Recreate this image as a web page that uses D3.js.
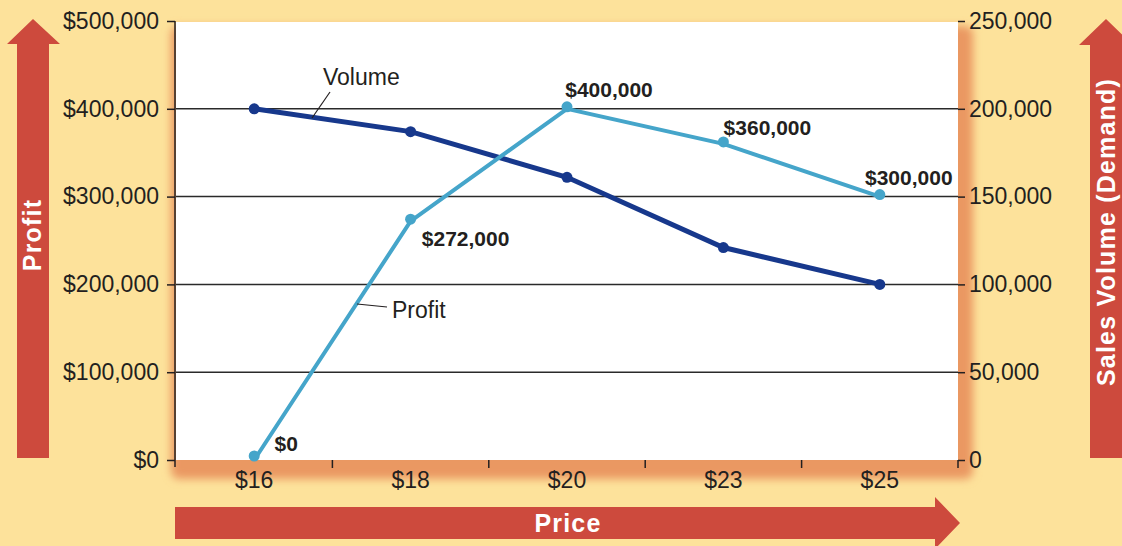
<!DOCTYPE html>
<html lang="en">
<head>
<meta charset="UTF-8">
<title>Price, Profit and Volume</title>
<script src="https://d3js.org/d3.v7.min.js"></script>
<style>
    body { margin: 0; background: #fde29b; }
    svg { display: block; font-family: "Liberation Sans", Arial, sans-serif; }
    .tick-label { font-size: 23px; fill: #231f20; }
    .data-label { font-size: 21px; font-weight: bold; fill: #231f20; }
    .arrow-label { font-size: 25px; font-weight: bold; fill: #fff; letter-spacing: 1.2px; }
</style>
</head>
<body>
<svg width="1122" height="546"></svg>
<script>
// data
const prices = ["$16", "$18", "$20", "$23", "$25"];
const profit = [0, 272000, 400000, 360000, 300000];
const volume = [200000, 187000, 161000, 121000, 100000];
const profitTicks = [0, 100000, 200000, 300000, 400000, 500000];
const volumeTicks = [0, 50000, 100000, 150000, 200000, 250000];
const profitLabels = ["$0", "$272,000", "$400,000", "$360,000", "$300,000"];

const plot = {left: 176, right: 958, top: 21, bottom: 460};
const svg = d3.select("svg");

const x = d3.scaleBand().domain(prices).range([plot.left, plot.right]);
const yP = d3.scaleLinear().domain([0, 500000]).range([plot.bottom, plot.top]);
const yV = d3.scaleLinear().domain([0, 250000]).range([plot.bottom, plot.top]);
const cx = d => x(d) + x.bandwidth() / 2;

svg.append("rect").attr("width", 1122).attr("height", 546).attr("fill", "#fde29b");

// shadow behind plot
const defs = svg.append("defs");
defs.append("filter").attr("id", "blur")
    .attr("x", "-5%").attr("y", "-5%").attr("width", "110%").attr("height", "110%")
  .append("feGaussianBlur").attr("stdDeviation", 4);

svg.append("rect")
    .attr("x", plot.left - 5).attr("y", plot.top + 5)
    .attr("width", plot.right - plot.left + 20).attr("height", plot.bottom - plot.top + 14)
    .attr("rx", 8)
    .attr("fill", "#ea9862")
    .attr("filter", "url(#blur)");

svg.append("rect")
    .attr("x", plot.left).attr("y", plot.top + 1)
    .attr("width", plot.right - plot.left).attr("height", plot.bottom - plot.top - 1)
    .attr("fill", "#fff");

// arrows
const red = "#cd4a3d";
svg.append("path").attr("fill", red)
    .attr("d", "M17,458 L17,44 L7,44 L33,19 L60,44 L49,44 L49,458 Z");
svg.append("path").attr("fill", red)
    .attr("d", "M1090,458 L1090,45 L1079,45 L1106,19 L1133,45 L1122,45 L1122,458 Z");
svg.append("path").attr("fill", red)
    .attr("d", "M175,507 L935,507 L935,497 L960,523 L935,549 L935,539 L175,539 Z");

svg.append("text").attr("class", "arrow-label")
    .attr("transform", "translate(41,235) rotate(-90)")
    .attr("text-anchor", "middle").text("Profit");
svg.append("text").attr("class", "arrow-label")
    .attr("transform", "translate(1115,232) rotate(-90)")
    .attr("text-anchor", "middle").text("Sales Volume (Demand)");
svg.append("text").attr("class", "arrow-label")
    .attr("x", 568).attr("y", 532)
    .attr("text-anchor", "middle").text("Price");

// gridlines
svg.append("g").selectAll("line")
    .data(profitTicks.slice(1, -1))
    .join("line")
    .attr("x1", plot.left).attr("x2", plot.right)
    .attr("y1", d => yP(d)).attr("y2", d => yP(d))
    .attr("stroke", "#2a2a2a").attr("stroke-width", 1.5);

// left axis
const leftAxis = svg.append("g")
    .attr("transform", `translate(${plot.left - 1},0)`)
    .call(d3.axisLeft(yP).tickValues(profitTicks)
        .tickFormat(d => "$" + d3.format(",")(d)).tickSize(8).tickSizeOuter(0));
leftAxis.select(".domain").remove();
leftAxis.append("line").attr("y1", plot.top).attr("y2", plot.bottom + 7)
    .attr("stroke", "#231f20").attr("stroke-width", 1.5);
leftAxis.selectAll(".tick line").attr("stroke", "#231f20").attr("stroke-width", 1.5);
leftAxis.selectAll(".tick text").attr("class", "tick-label")
    .attr("font-size", null).attr("font-family", null).attr("fill", null).attr("x", -16);

// right axis
const rightAxis = svg.append("g")
    .attr("transform", `translate(${plot.right},0)`)
    .call(d3.axisRight(yV).tickValues(volumeTicks)
        .tickFormat(d3.format(",")).tickSize(7).tickSizeOuter(0));
rightAxis.select(".domain").remove();
rightAxis.selectAll(".tick line").attr("stroke", "#231f20").attr("stroke-width", 1.5);
rightAxis.selectAll(".tick text").attr("class", "tick-label")
    .attr("font-size", null).attr("font-family", null).attr("fill", null).attr("x", 11);

// bottom axis: ticks at band boundaries, labels at centers
const bounds = prices.map(p => x(p)).concat([plot.right]);
svg.append("g").selectAll("line")
    .data(bounds.slice(1))
    .join("line")
    .attr("x1", d => d).attr("x2", d => d)
    .attr("y1", plot.bottom).attr("y2", plot.bottom + 8)
    .attr("stroke", "#231f20").attr("stroke-width", 1.5);
svg.append("g").selectAll("text")
    .data(prices)
    .join("text")
    .attr("class", "tick-label")
    .attr("x", d => cx(d)).attr("y", plot.bottom + 28)
    .attr("text-anchor", "middle")
    .text(d => d);

// lines
const volLine = d3.line().x((d, i) => cx(prices[i])).y(d => yV(d));
const profLine = d3.line().x((d, i) => cx(prices[i])).y(d => yP(d));

svg.append("path").datum(volume)
    .attr("fill", "none").attr("stroke", "#17388c").attr("stroke-width", 5)
    .attr("d", volLine);
svg.append("g").selectAll("circle")
    .data(volume).join("circle")
    .attr("cx", (d, i) => cx(prices[i])).attr("cy", d => yV(d))
    .attr("r", 5.5).attr("fill", "#17388c");

svg.append("path").datum(profit)
    .attr("fill", "none").attr("stroke", "#45a5ca").attr("stroke-width", 4)
    .attr("d", profLine);
svg.append("g").selectAll("circle")
    .data(profit).join("circle")
    .attr("cx", (d, i) => cx(prices[i])).attr("cy", d => yP(d) - (d === 0 ? 4 : 2))
    .attr("r", 5.5).attr("fill", "#45a5ca");

// value labels
const labelOffsets = [[32, -9], [55, 25], [42, -12], [44, -9], [29, -12]];
svg.append("g").selectAll("text")
    .data(profit).join("text")
    .attr("class", "data-label")
    .attr("text-anchor", "middle")
    .attr("x", (d, i) => cx(prices[i]) + labelOffsets[i][0])
    .attr("y", (d, i) => yP(d) + labelOffsets[i][1])
    .text((d, i) => profitLabels[i]);

// callouts
svg.append("text").attr("class", "tick-label")
    .attr("x", 323).attr("y", 85).text("Volume");
svg.append("line").attr("x1", 330).attr("y1", 92).attr("x2", 312).attr("y2", 118)
    .attr("stroke", "#231f20").attr("stroke-width", 1.2);
svg.append("text").attr("class", "tick-label")
    .attr("x", 392).attr("y", 318).text("Profit");
svg.append("line").attr("x1", 357).attr("y1", 304).attr("x2", 387).attr("y2", 307)
    .attr("stroke", "#231f20").attr("stroke-width", 1.2);
</script>
</body>
</html>
